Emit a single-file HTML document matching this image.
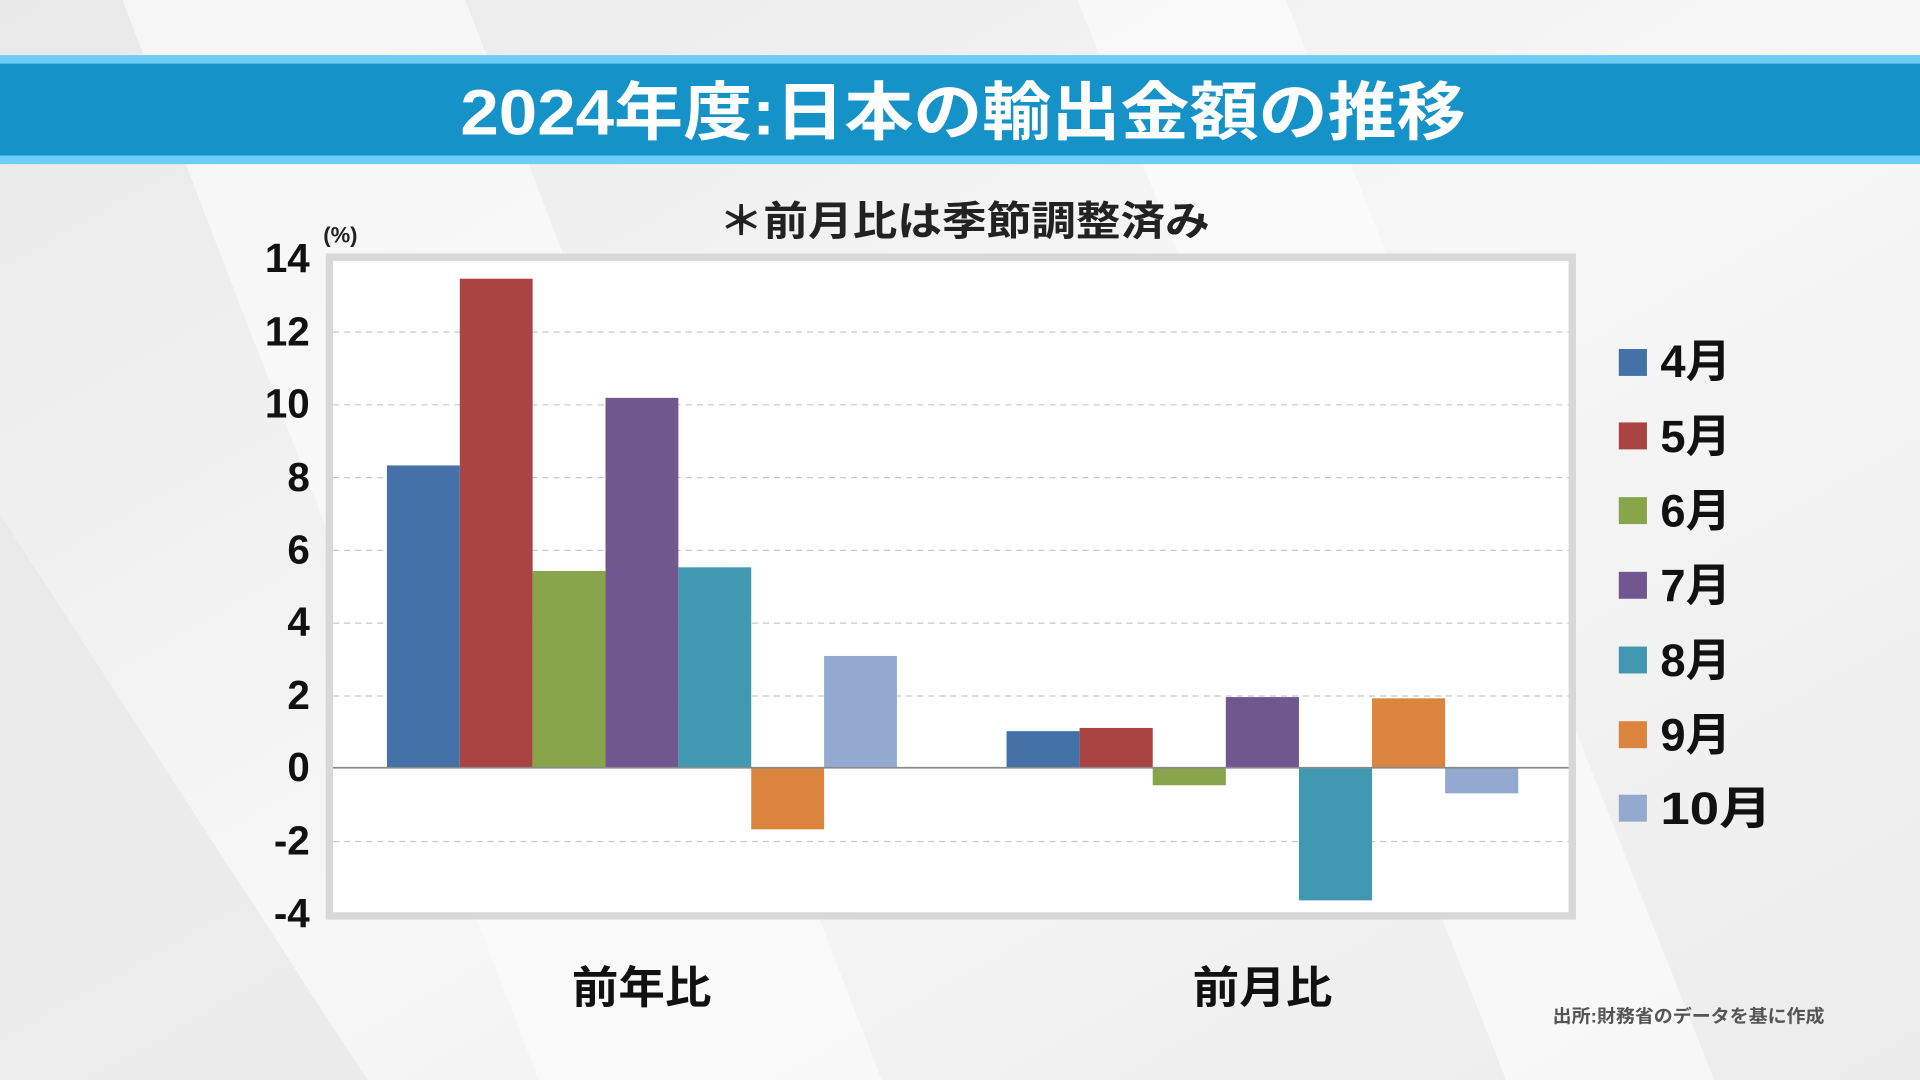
<!DOCTYPE html>
<html><head><meta charset="utf-8"><style>
html,body{margin:0;padding:0;width:1920px;height:1080px;overflow:hidden;background:#f2f2f2}
svg{display:block}
text{font-family:"Liberation Sans","Noto Sans CJK JP",sans-serif;font-weight:bold}
</style></head><body>
<svg width="1920" height="1080" viewBox="0 0 1568 882" preserveAspectRatio="none">
<defs>
<linearGradient id="bg" x1="0" y1="0" x2="1" y2="1">
<stop offset="0" stop-color="#e9e9e9"/><stop offset="0.5" stop-color="#f7f7f7"/><stop offset="1" stop-color="#ececec"/>
</linearGradient>
</defs>
<rect width="1568" height="882" fill="url(#bg)"/>
<polygon points="100,0 380,0 720,882 440,882" fill="#fbfbfb" opacity="0.7"/>
<polygon points="880,0 1050,0 1400,882 1230,882" fill="#fdfdfd" opacity="0.6"/>
<polygon points="0,420 300,882 0,882" fill="#e6e6e6" opacity="0.6"/>
<rect x="0" y="45" width="1568" height="89" fill="#6ccdf5"/>
<rect x="0" y="52" width="1568" height="75" fill="#1592c8"/>
<text x="376" y="110" font-size="52" fill="#fff" textLength="821" lengthAdjust="spacingAndGlyphs">2024年度:日本の輸出金額の推移</text>
<text x="587" y="192" font-size="33" fill="#222" textLength="401" lengthAdjust="spacingAndGlyphs">＊前月比は季節調整済み</text>
<rect x="269" y="210" width="1015" height="538" fill="#fff" stroke="#d8d8d8" stroke-width="6"/>
<g stroke="#c8c8c8" stroke-width="1" stroke-dasharray="5,4">
<line x1="272" x2="1281" y1="271.2" y2="271.2"/>
<line x1="272" x2="1281" y1="330.6" y2="330.6"/>
<line x1="272" x2="1281" y1="390.1" y2="390.1"/>
<line x1="272" x2="1281" y1="449.5" y2="449.5"/>
<line x1="272" x2="1281" y1="508.9" y2="508.9"/>
<line x1="272" x2="1281" y1="568.4" y2="568.4"/>
<line x1="272" x2="1281" y1="687.2" y2="687.2"/>
</g>
<g>
<rect x="316" y="380.1" width="59.5" height="246.7" fill="#4472a8"/>
<rect x="375.5" y="227.6" width="59.5" height="399.2" fill="#a94442"/>
<rect x="435" y="466.3" width="59.5" height="160.5" fill="#88a54b"/>
<rect x="494.5" y="324.9" width="59.5" height="301.9" fill="#71578f"/>
<rect x="554" y="463.3" width="59.5" height="163.5" fill="#4199b1"/>
<rect x="613.5" y="626.8" width="59.5" height="50.5" fill="#db843d"/>
<rect x="673" y="535.7" width="59.5" height="91.1" fill="#93a9cf"/>
<rect x="822" y="597.1" width="59.7" height="29.7" fill="#4472a8"/>
<rect x="881.7" y="594.5" width="59.7" height="32.3" fill="#a94442"/>
<rect x="941.4" y="626.8" width="59.7" height="14.5" fill="#88a54b"/>
<rect x="1001.1" y="569.3" width="59.7" height="57.5" fill="#71578f"/>
<rect x="1060.8" y="626.8" width="59.7" height="108.5" fill="#4199b1"/>
<rect x="1120.5" y="570.3" width="59.7" height="56.5" fill="#db843d"/>
<rect x="1180.2" y="626.8" width="59.7" height="21.1" fill="#93a9cf"/>
</g>
<line x1="272" x2="1281" y1="627" y2="627" stroke="#8a8a8a" stroke-width="1.5"/>
<g font-size="33" fill="#111" text-anchor="end">
<text x="253" y="222">14</text><text x="253" y="282">12</text><text x="253" y="341">10</text>
<text x="253" y="401">8</text><text x="253" y="460">6</text><text x="253" y="519">4</text>
<text x="253" y="579">2</text><text x="253" y="638">0</text><text x="253" y="698">-2</text><text x="253" y="757">-4</text>
</g>
<text x="264" y="198" font-size="18" fill="#222" font-weight="normal">(%)</text>
<g font-size="37" fill="#111">
<rect x="1322" y="285" width="23" height="22" fill="#4472a8"/><text x="1356" y="308">4月</text>
<rect x="1322" y="345" width="23" height="22" fill="#a94442"/><text x="1356" y="369">5月</text>
<rect x="1322" y="406" width="23" height="22" fill="#88a54b"/><text x="1356" y="430">6月</text>
<rect x="1322" y="467" width="23" height="22" fill="#71578f"/><text x="1356" y="491">7月</text>
<rect x="1322" y="528" width="23" height="22" fill="#4199b1"/><text x="1356" y="552">8月</text>
<rect x="1322" y="589" width="23" height="22" fill="#db843d"/><text x="1356" y="613">9月</text>
<rect x="1322" y="649" width="23" height="22" fill="#93a9cf"/><text x="1356" y="673" textLength="91" lengthAdjust="spacingAndGlyphs">10月</text>
</g>
<text x="467" y="819" font-size="36" fill="#111" textLength="114" lengthAdjust="spacingAndGlyphs">前年比</text>
<text x="974" y="819" font-size="36" fill="#111" textLength="114" lengthAdjust="spacingAndGlyphs">前月比</text>
<text x="1268" y="835" font-size="15" fill="#555" font-weight="normal" textLength="222" lengthAdjust="spacingAndGlyphs">出所:財務省のデータを基に作成</text>
</svg>
</body></html>
